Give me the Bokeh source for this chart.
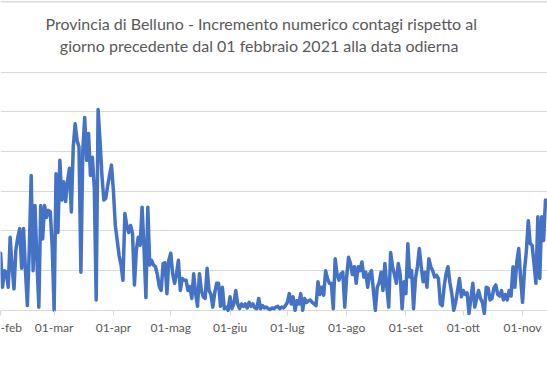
import pandas as pd
from bokeh.plotting import figure
from bokeh.models import Range1d, FixedTicker, Label, ColumnDataSource, Span
from bokeh.embed import file_html
from bokeh.resources import INLINE

start_date = "2021-02-01"
values = [72,29,50,48,29,92,55,27,76,92,
103,53,103,50,6,76,170,50,132,
63,4,132,90,132,117,126,124,80,0,
172,98,189,139,162,137,162,179,124,
206,235,214,206,48,202,243,189,223,170,
193,155,13,253,214,170,139,141,157,
170,183,151,107,88,69,57,38,122,107,
98,107,97,32,76,92,82,130,79,
16,130,57,63,57,55,45,30,25,59,
60,21,63,72,46,34,46,63,25,
40,38,38,25,30,15,46,21,5,46,
25,17,15,53,25,20,4,22,34,
34,5,29,2,4,0,17,2,8,25,
8,2,8,5,8,3,10,5,8,3,
2,15,2,6,3,4,2,1,3,
2,4,5,2,4,3,6,10,21,8,
17,0,12,8,21,0,15,10,12,
13,10,8,6,36,20,29,19,50,40,
34,34,2,65,45,38,46,48,4,
42,67,59,45,55,34,55,50,61,42,
48,29,46,50,25,0,29,35,48,
25,59,30,4,73,55,45,34,59,45,
2,36,21,84,42,50,2,40,55,
78,55,36,48,29,65,55,50,42,44,
40,8,6,30,46,55,35,21,0,
10,25,40,17,25,20,22,-4,15,34,
4,15,25,15,10,-4,29,28,13,
15,28,32,20,18,25,13,20,13,25,
18,55,29,61,78,40,10,50,75,113,
84,82,59,34,118,40,118,88,139,
135]

tick_dates = ["2021-02-01","2021-03-01","2021-04-01","2021-05-01","2021-06-01",
              "2021-07-01","2021-08-01","2021-09-01","2021-10-01","2021-11-01"]
# the first label is cut by the left edge in the reference: only "-feb" shows
tick_labels = ["-feb","01-mar","01-apr","01-mag","01-giu",
               "01-lug","01-ago","01-set","01-ott","01-nov"]
grid_values = [0, 50, 100, 150, 200, 250, 300]

title_lines = ["Provincia di Belluno - Incremento numerico contagi rispetto al",
               "giorno precedente dal  01 febbraio 2021 alla data odierna"]

dates = pd.date_range(start_date, periods=len(values), freq="D")
src = ColumnDataSource(dict(x=dates, y=values))

def ms(ts):
    return pd.Timestamp(ts).value / 1e6

day_ms = 86400000.0
x0 = ms(start_date)

p = figure(width=547, height=365, x_axis_type="datetime",
           output_backend="svg", toolbar_location=None,
           x_range=Range1d(x0 - 0.05 * day_ms, x0 + 286.05 * day_ms),
           y_range=Range1d(-6.55, 390.5))
p.min_border_top = 0
p.min_border_bottom = 50
p.min_border_left = 0
p.min_border_right = 0
p.outline_line_color = None
p.background_fill_color = "white"
p.border_fill_color = "white"

p.line("x", "y", source=src, line_color="#4472C4", line_width=3.5,
       line_join="round", line_cap="round")

p.yaxis.visible = False
p.xgrid.visible = False
p.ygrid.ticker = FixedTicker(ticks=grid_values)
p.ygrid.grid_line_color = "#d9d9d9"
p.ygrid.grid_line_width = 1

p.add_layout(Span(location=389.0, dimension="width", line_color="#d9d9d9", line_width=1.5))

tick_ms = [ms(d) for d in tick_dates]
p.xaxis.ticker = FixedTicker(ticks=tick_ms)
p.xaxis.major_label_overrides = {t: l for t, l in zip(tick_ms, tick_labels)}
p.xaxis.axis_line_color = None
p.xaxis.major_tick_in = 5
p.xaxis.major_tick_out = 0
p.xaxis.major_tick_line_color = "#d9d9d9"
p.xaxis.minor_tick_line_color = None
p.xaxis.major_label_text_font = "Lato"
p.xaxis.major_label_text_font_size = "12px"
p.xaxis.major_label_text_color = "#595959"
p.xaxis.major_label_standoff = 4

cx = x0 + 136.3 * day_ms
for ty, txt in zip([362.0, 334.3], title_lines):
    p.add_layout(Label(x=cx, y=ty, text=txt, text_align="center",
                       text_baseline="middle", text_font="Lato",
                       text_font_size="16px", text_color="#595959"))

open("out.html", "w").write(file_html(p, INLINE))
